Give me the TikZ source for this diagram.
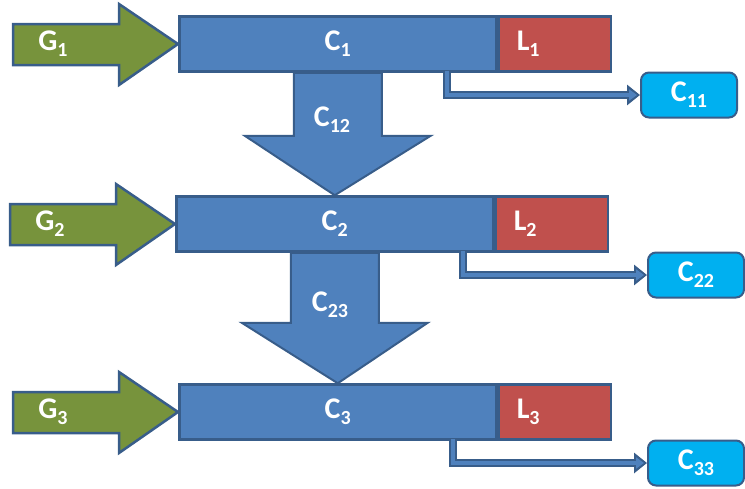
\documentclass[tikz,border=0pt]{standalone}
\usepackage{fontspec}
\setmainfont{Carlito}
\usetikzlibrary{arrows.meta,positioning}
\definecolor{boxblue}{RGB}{79,129,189}
\definecolor{edgeblue}{RGB}{56,93,138}
\definecolor{lossred}{RGB}{192,80,77}
\definecolor{genegreen}{RGB}{119,147,60}
\definecolor{outcyan}{RGB}{0,176,240}
\newcommand{\lab}[2]{#1\raisebox{-6pt}{\fontsize{20}{20}\selectfont #2}}

\begin{document}
\begin{tikzpicture}[x=1pt,y=-1pt,font=\fontsize{30}{32}\selectfont\bfseries,text=white,
    cbox/.style={draw=edgeblue,line width=2.5pt,fill=boxblue,minimum width=317pt,minimum height=55pt,inner sep=0pt},
    lbox/.style={draw=edgeblue,line width=2.5pt,fill=lossred,minimum height=55pt,text width=76pt,inner xsep=18pt,inner ysep=0pt,align=left},
    obox/.style={draw=edgeblue,line width=2pt,fill=outcyan,rounded corners=8pt,minimum height=45pt,minimum width=96pt},
    garrow/.style={draw=edgeblue,line width=2.5pt,fill=genegreen},
    darrow/.style={draw=edgeblue,line width=2pt,fill=boxblue},
    linkout/.style={draw=edgeblue,line width=8pt,-{Triangle[length=13pt,width=20pt]}},
    linkin/.style={draw=boxblue,line width=3.5pt,shorten >=3pt,-{Triangle[length=8pt,width=11pt]}}]
  \useasboundingbox (0,0) rectangle (745,488);
  % one row per stage
  \foreach \i/\x/\y/\ox/\oy/\d in {1/178/44/689/95/447,2/175/224/696/275/463,3/178/412/696/463/453}{
    \node[cbox,anchor=west] (C\i) at (\x,\y) {\lab{C}{\i}};
    \node[lbox,right=0pt of C\i] (L\i) {\lab{L}{\i}};
    \node[obox] (O\i) at (\ox,\oy) {\lab{C}{\i\i}};
    \draw[garrow] (C\i.west) -- ++(-59,-40) -- ++(0,20) -- ++(-106,0) -- ++(0,41) -- ++(106,0) -- ++(0,20) -- cycle;
    \node (G\i) at ([xshift=-125pt]C\i.west) {\lab{G}{\i}};
    \coordinate (s\i) at (\d,{\y+27});
    \draw[linkout] (s\i) |- (O\i.west);
    \draw[linkin] (s\i) |- (O\i.west);
  }
  % transfer between stages
  \foreach \a/\b/\h/\lx/\ly in {1/2/63/332/120,2/3/70/330/305}{
    \draw[darrow] ([xshift=-44pt]C\a.south) -- ([xshift=-44pt,yshift=-\h pt]C\a.south)
      -- ([xshift=-93pt,yshift=-\h pt]C\a.south) -- (C\b.north)
      -- ([xshift=93pt,yshift=-\h pt]C\a.south) -- ([xshift=44pt,yshift=-\h pt]C\a.south)
      -- ([xshift=44pt]C\a.south) -- cycle;
    \node (C\a\b) at (\lx,\ly) {\lab{C}{\a\b}};
  }
\end{tikzpicture}
\end{document}
